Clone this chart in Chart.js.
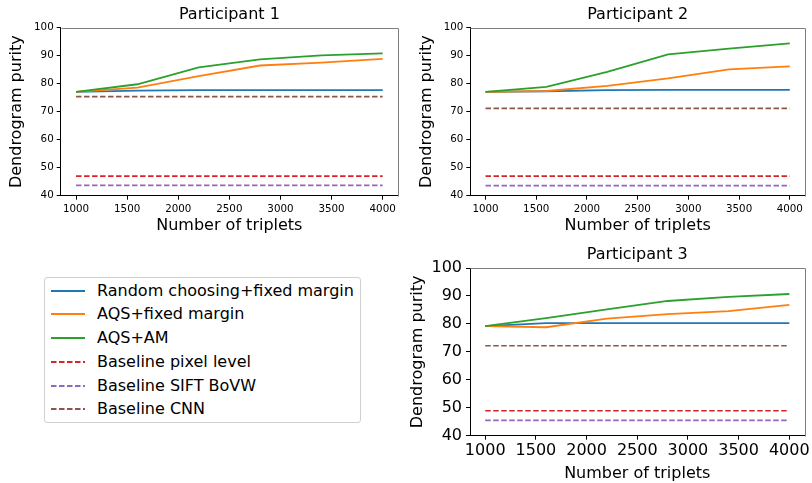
<!DOCTYPE html>
<html>
<head>
<meta charset="utf-8">
<script src="https://cdn.jsdelivr.net/npm/chart.js@4/dist/chart.umd.min.js"></script>
<style>
  body { margin: 0; background: #fff; font-family: "DejaVu Sans", sans-serif; }
  #wrap { position: relative; width: 812px; height: 483px; overflow: hidden; }
  .box { position: absolute; }
  #legend { position: absolute; left: 44px; top: 277px; width: 317px; height: 146px;
            border: 1px solid #d0d0d0; border-radius: 3px; box-sizing: border-box; }
  .row { position: absolute; left: 0; height: 20px; font-size: 16px; color: #000; white-space: nowrap; }
  .row svg { position: absolute; left: 5px; top: 5px; }
  .row span { position: absolute; left: 52px; top: 0; line-height: 20px; }
</style>
</head>
<body>
<div id="wrap">
  <div class="box" style="left:0;top:0;width:410px;height:240px"><canvas id="c1"></canvas></div>
  <div class="box" style="left:410px;top:0;width:402px;height:240px"><canvas id="c2"></canvas></div>
  <div class="box" style="left:400px;top:240px;width:412px;height:243px"><canvas id="c3"></canvas></div>
  <div id="legend"></div>
</div>
<script>
// data
var triplets = [1000, 1600, 2200, 2800, 3400, 4000];
var xTicks = [1000, 1500, 2000, 2500, 3000, 3500, 4000];
var yTicks = [40, 50, 60, 70, 80, 90, 100];
var seriesNames = ['Random choosing+fixed margin', 'AQS+fixed margin', 'AQS+AM',
                   'Baseline pixel level', 'Baseline SIFT BoVW', 'Baseline CNN'];
var seriesColors = ['#1f77b4', '#ff7f0e', '#2ca02c', '#d62728', '#9467bd', '#8c564b'];

var p1Random   = [77.1, 77.5, 77.7, 77.7, 77.7, 77.7];
var p1AqsFixed = [77.1, 78.6, 82.7, 86.5, 87.5, 88.9];
var p1AqsAm    = [77.1, 79.8, 85.8, 88.7, 90.1, 90.8];
var p1Baseline = [47.0, 43.7, 75.4];   // pixel, SIFT, CNN

var p2Random   = [77.1, 77.3, 77.7, 77.8, 77.8, 77.8];
var p2AqsFixed = [77.1, 77.4, 79.2, 81.9, 85.1, 86.2];
var p2AqsAm    = [77.1, 78.9, 84.2, 90.5, 92.5, 94.4];
var p2Baseline = [47.0, 43.6, 71.2];

var p3Random   = [79.2, 80.3, 80.3, 80.3, 80.3, 80.3];
var p3AqsFixed = [79.2, 78.8, 81.9, 83.5, 84.6, 86.8];
var p3AqsAm    = [79.2, 82.1, 85.2, 88.2, 89.7, 90.7];
var p3Baseline = [48.9, 45.5, 72.2];

var FONT = '"DejaVu Sans", sans-serif';

// draws the top and right spine
var frame = {
    id: 'frame',
    afterDraw: function (chart) {
        var a = chart.chartArea, ctx = chart.ctx;
        ctx.save();
        ctx.strokeStyle = '#808080';
        ctx.lineWidth = 1;
        ctx.beginPath();
        ctx.moveTo(Math.round(a.left) + 0.5, Math.round(a.top) + 0.5);
        ctx.lineTo(Math.round(a.right) + 0.5, Math.round(a.top) + 0.5);
        ctx.lineTo(Math.round(a.right) + 0.5, Math.round(a.bottom) + 0.5);
        ctx.stroke();
        ctx.restore();
    }
};

var CrearDatasets = function (random, aqsFixed, aqsAm, baseline) {
    var lines = [random, aqsFixed, aqsAm];
    var sets = [];
    for (var i = 0; i < 3; i++) {
        sets.push({
            label: seriesNames[i],
            data: triplets.map(function (t, k) { return { x: t, y: lines[i][k] }; }),
            borderColor: seriesColors[i],
            borderWidth: 1.8,
            order: 6 - i
        });
    }
    for (var j = 0; j < 3; j++) {
        var v = baseline[j];
        sets.push({
            label: seriesNames[3 + j],
            data: [{ x: triplets[0], y: v }, { x: triplets[triplets.length - 1], y: v }],
            borderColor: seriesColors[3 + j],
            borderWidth: 1.6,
            borderDash: [5.5, 2.5],
            order: 3 - j
        });
    }
    return sets;
};

var CrearChart = function (id, titulo, datasets, cfg) {
    new Chart(document.getElementById(id), {
        type: 'line',
        data: { datasets: datasets },
        plugins: [frame],
        options: {
            responsive: true,
            maintainAspectRatio: false,
            animation: false,
            elements: { point: { radius: 0 }, line: { tension: 0, fill: false } },
            layout: { padding: { left: 0, right: cfg.padRight, top: 0, bottom: 0 } },
            plugins: {
                legend: { display: false },
                tooltip: { enabled: false },
                title: {
                    display: true, text: titulo, color: '#000', fullSize: false,
                    font: { family: FONT, size: 16, weight: 'normal' },
                    padding: { top: cfg.titleTop, bottom: cfg.titleBottom }
                }
            },
            scales: {
                x: {
                    type: 'linear', min: 850, max: 4150,
                    afterBuildTicks: function (s) { s.ticks = xTicks.map(function (v) { return { value: v }; }); },
                    afterFit: function (s) { s.height = cfg.xHeight; },
                    grid: { drawOnChartArea: false, drawTicks: true, tickLength: 4, color: '#000' },
                    border: { display: true, color: '#000', width: 1 },
                    ticks: { color: '#000', padding: cfg.xTickPad, maxRotation: 0, autoSkip: false,
                             callback: function (v) { return String(v); },
                             font: { family: FONT, size: cfg.tickSize } },
                    title: { display: true, text: 'Number of triplets', color: '#000',
                             font: { family: FONT, size: 16 }, padding: { top: 0, bottom: cfg.xTitlePad } }
                },
                y: {
                    min: 40, max: 100,
                    afterBuildTicks: function (s) { s.ticks = yTicks.map(function (v) { return { value: v }; }); },
                    afterFit: function (s) { s.width = cfg.yWidth; },
                    grid: { drawOnChartArea: false, drawTicks: true, tickLength: 4, color: '#000' },
                    border: { display: true, color: '#000', width: 1 },
                    ticks: { color: '#000', padding: cfg.yTickPad, autoSkip: false,
                             callback: function (v) { return String(v); },
                             font: { family: FONT, size: cfg.tickSize } },
                    title: { display: true, text: 'Dendrogram purity', color: '#000',
                             font: { family: FONT, size: 16 }, padding: { top: cfg.yTitlePad, bottom: 0 } }
                }
            }
        }
    });
};

CrearChart('c1', 'Participant 1', CrearDatasets(p1Random, p1AqsFixed, p1AqsAm, p1Baseline),
    { padRight: 12, titleTop: 5, titleBottom: 3.5, xHeight: 44.3, yWidth: 60.7,
      tickSize: 10.3, xTickPad: 3.5, yTickPad: 3, xTitlePad: 4.5, yTitlePad: 7 });
CrearChart('c2', 'Participant 2', CrearDatasets(p2Random, p2AqsFixed, p2AqsAm, p2Baseline),
    { padRight: 7, titleTop: 5, titleBottom: 3.5, xHeight: 44.3, yWidth: 60.3,
      tickSize: 10.3, xTickPad: 3.5, yTickPad: 3, xTitlePad: 4.5, yTitlePad: 7 });
CrearChart('c3', 'Participant 3', CrearDatasets(p3Random, p3AqsFixed, p3AqsAm, p3Baseline),
    { padRight: 4, titleTop: 5.5, titleBottom: 3.3, xHeight: 47.3, yWidth: 70,
      tickSize: 16, xTickPad: 2, yTickPad: 4, xTitlePad: 0, yTitlePad: 8.7 });

// legend
var legend = document.getElementById('legend');
var rowTops = [291, 314.3, 338.3, 361.7, 385.7, 409.3];
for (var i = 0; i < seriesNames.length; i++) {
    var row = document.createElement('div');
    row.className = 'row';
    row.style.top = (rowTops[i] - 277 - 1 - 10) + 'px';
    var dash = i >= 3 ? ' stroke-dasharray="5.5 2.5"' : '';
    row.innerHTML = '<svg width="36" height="10"><line x1="1" y1="5" x2="35" y2="5" stroke="' +
        seriesColors[i] + '" stroke-width="1.8"' + dash + '/></svg><span>' + seriesNames[i] + '</span>';
    legend.appendChild(row);
}
</script>
</body>
</html>
